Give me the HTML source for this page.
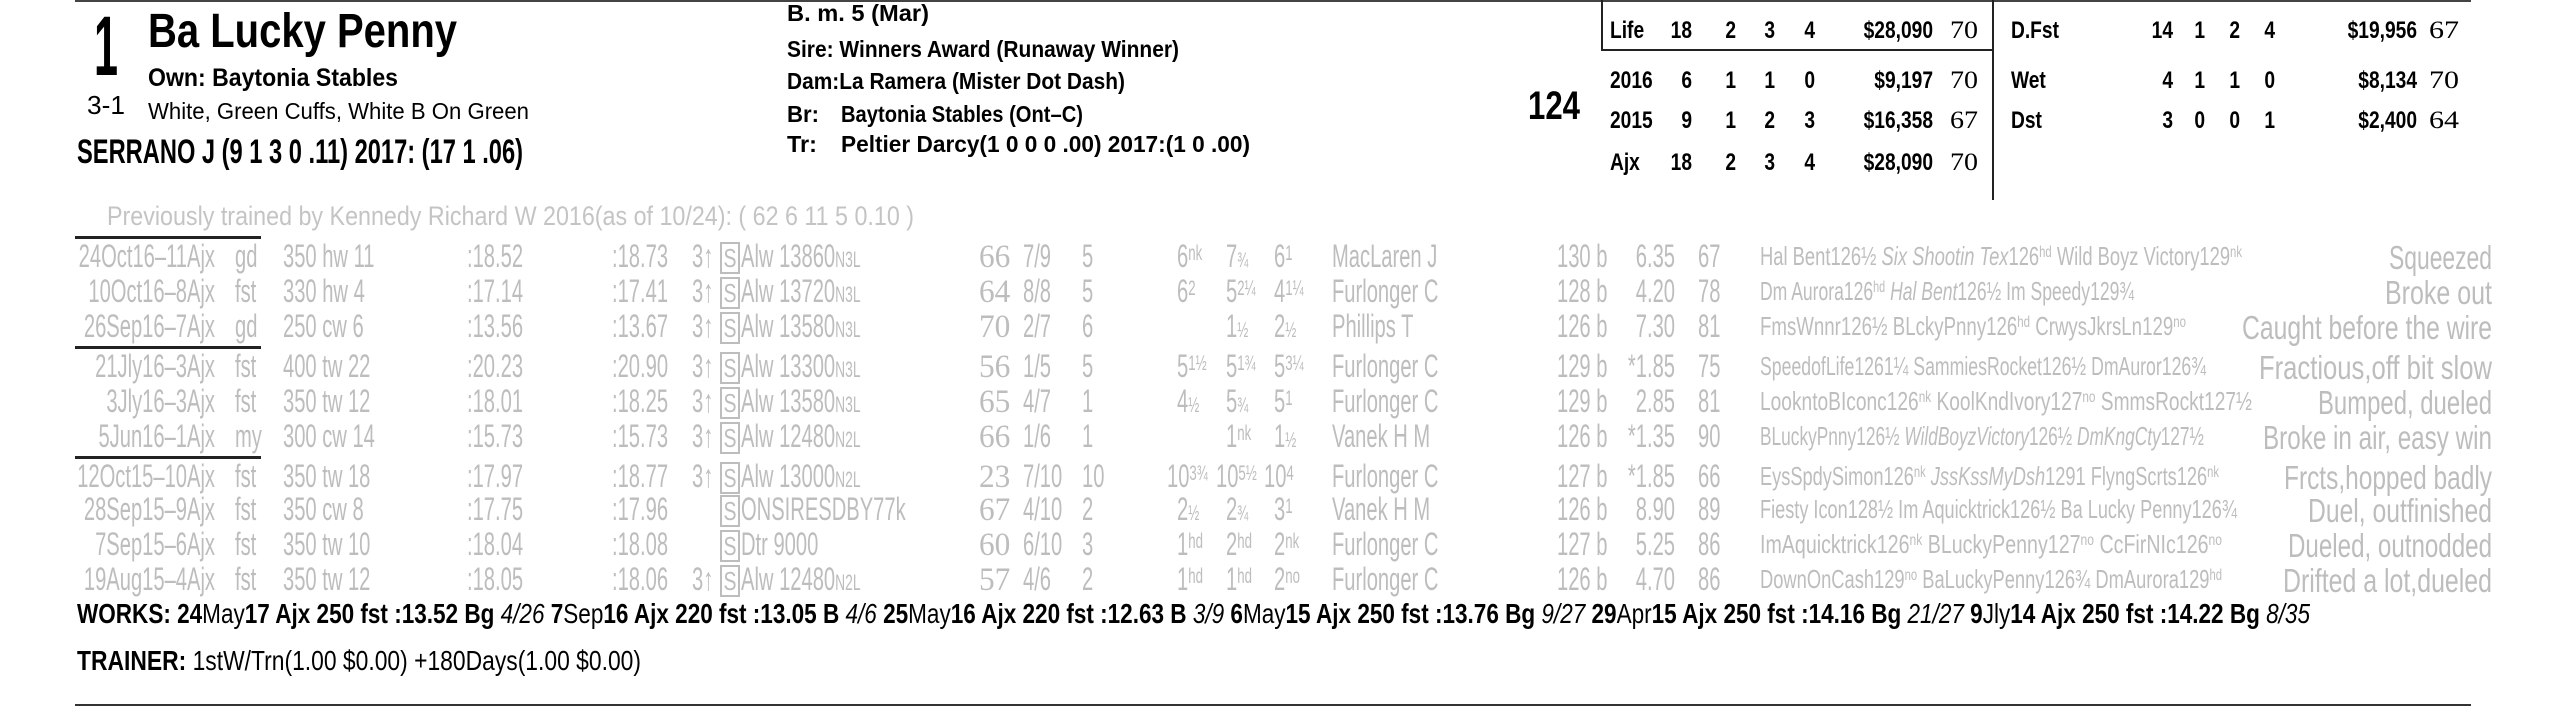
<!DOCTYPE html>
<html><head><meta charset="utf-8"><style>
html,body{margin:0;padding:0;background:#fff;}
svg{display:block;font-family:"Liberation Sans",sans-serif;}
.b{font-weight:bold;}
.s{font-family:"Liberation Serif",serif;}
</style></head><body>
<svg id="card" xmlns="http://www.w3.org/2000/svg" width="2550" height="707" viewBox="0 0 2550 707">
<line x1="75" y1="1" x2="2471" y2="1" stroke="#444" stroke-width="2"/>
<line x1="75" y1="705" x2="2471" y2="705" stroke="#333" stroke-width="2"/>
<text class="b" x="94" y="75" font-size="84" textLength="24" lengthAdjust="spacingAndGlyphs">1</text>
<text class="b" x="148" y="47" font-size="48" textLength="309" lengthAdjust="spacingAndGlyphs">Ba Lucky Penny</text>
<text class="b" x="148" y="86" font-size="25" textLength="250" lengthAdjust="spacingAndGlyphs">Own: Baytonia Stables</text>
<text x="87" y="114" font-size="26" textLength="38" lengthAdjust="spacingAndGlyphs">3-1</text>
<text x="148" y="119" font-size="23" textLength="381" lengthAdjust="spacingAndGlyphs">White, Green Cuffs, White B On Green</text>
<text class="b" x="77" y="163" font-size="34" textLength="446" lengthAdjust="spacingAndGlyphs">SERRANO J (9 1 3 0 .11) 2017: (17 1 .06)</text>
<text class="b" x="787" y="21" font-size="23" textLength="142" lengthAdjust="spacingAndGlyphs">B. m. 5 (Mar)</text>
<text class="b" x="787" y="57" font-size="23" textLength="392" lengthAdjust="spacingAndGlyphs">Sire: Winners Award (Runaway Winner)</text>
<text class="b" x="787" y="89" font-size="23" textLength="338" lengthAdjust="spacingAndGlyphs">Dam:La Ramera (Mister Dot Dash)</text>
<text class="b" x="787" y="122" font-size="23" textLength="32" lengthAdjust="spacingAndGlyphs">Br:</text>
<text class="b" x="841" y="122" font-size="23" textLength="242" lengthAdjust="spacingAndGlyphs">Baytonia Stables (Ont–C)</text>
<text class="b" x="787" y="152" font-size="23" textLength="30" lengthAdjust="spacingAndGlyphs">Tr:</text>
<text class="b" x="841" y="152" font-size="23" textLength="409" lengthAdjust="spacingAndGlyphs">Peltier Darcy(1 0 0 0 .00)  2017:(1 0 .00)</text>
<text class="b" x="1528" y="119" font-size="40" textLength="52" lengthAdjust="spacingAndGlyphs">124</text>
<path d="M1602 0 V50 H1993" fill="none" stroke="#222" stroke-width="2"/>
<line x1="1993" y1="0" x2="1993" y2="200" stroke="#222" stroke-width="2"/>
<text x="107" y="225" font-size="27" fill="#c4c4c4" textLength="807" lengthAdjust="spacingAndGlyphs">Previously trained by Kennedy Richard W 2016(as of 10/24): ( 62 6 11 5 0.10 )</text>
<g id="stats"></g>
<g id="pp"></g>
<text class="b" x="77" y="623" font-size="28" textLength="2233" lengthAdjust="spacingAndGlyphs">WORKS:   24<tspan font-weight="normal">May</tspan>17 Ajx 250 fst  :13.52 Bg <tspan font-weight="normal" font-style="italic">4/26</tspan>   7<tspan font-weight="normal">Sep</tspan>16 Ajx 220 fst  :13.05 B <tspan font-weight="normal" font-style="italic">4/6</tspan>   25<tspan font-weight="normal">May</tspan>16 Ajx 220 fst  :12.63 B <tspan font-weight="normal" font-style="italic">3/9</tspan>   6<tspan font-weight="normal">May</tspan>15 Ajx 250 fst  :13.76 Bg <tspan font-weight="normal" font-style="italic">9/27</tspan>   29<tspan font-weight="normal">Apr</tspan>15 Ajx 250 fst  :14.16 Bg <tspan font-weight="normal" font-style="italic">21/27</tspan>   9<tspan font-weight="normal">Jly</tspan>14 Ajx 250 fst  :14.22 Bg <tspan font-weight="normal" font-style="italic">8/35</tspan></text>
<text class="b" x="77" y="670" font-size="28" textLength="564" lengthAdjust="spacingAndGlyphs">TRAINER: <tspan font-weight="normal">1stW/Trn(1.00 $0.00) +180Days(1.00 $0.00)</tspan></text>
</svg>
<script>
const NS = "http://www.w3.org/2000/svg";
const statRows = [
  ["Life","18","2","3","4","$28,090","70"],
  ["2016","6","1","1","0","$9,197","70"],
  ["2015","9","1","2","3","$16,358","67"],
  ["Ajx","18","2","3","4","$28,090","70"]
];
const surfRows = [
  ["D.Fst","14","1","2","4","$19,956","67"],
  ["Wet","4","1","1","0","$8,134","70"],
  ["Dst","3","0","0","1","$2,400","64"]
];
const ppDates = ["24Oct16–11Ajx","10Oct16–8Ajx","26Sep16–7Ajx","21Jly16–3Ajx","3Jly16–3Ajx","5Jun16–1Ajx","12Oct15–10Ajx","28Sep15–9Ajx","7Sep15–6Ajx","19Aug15–4Ajx"];
const ppCond = ["gd","fst","gd","fst","fst","my","fst","fst","fst","fst"];
const ppDist = ["350 hw 11","330 hw 4","250 cw 6","400 tw 22","350 tw 12","300 cw 14","350 tw 18","350 cw 8","350 tw 10","350 tw 12"];
const ppF1 = [":18.52",":17.14",":13.56",":20.23",":18.01",":15.73",":17.97",":17.75",":18.04",":18.05"];
const ppF2 = [":18.73",":17.41",":13.67",":20.90",":18.25",":15.73",":18.77",":17.96",":18.08",":18.06"];
const ppAge = ["3↑","3↑","3↑","3↑","3↑","3↑","3↑","","","3↑"];
const ppRace = [["Alw 13860","N3L"],["Alw 13720","N3L"],["Alw 13580","N3L"],["Alw 13300","N3L"],["Alw 13580","N3L"],["Alw 12480","N2L"],["Alw 13000","N2L"],["ONSIRESDBY77k",""],["Dtr 9000",""],["Alw 12480","N2L"]];
const ppSpeed = ["66","64","70","56","65","66","23","67","60","57"];
const ppPost = ["7/9","8/8","2/7","1/5","4/7","1/6","7/10","4/10","6/10","4/6"];
const ppStart = ["5","5","6","5","1","1","10","2","3","2"];
const ppCalls = [
  [["6","nk"],["7","¾"],["6","1"]],
  [["6","2"],["5","2¼"],["4","1¼"]],
  [null,["1","½"],["2","½"]],
  [["5","1½"],["5","1¾"],["5","3¼"]],
  [["4","½"],["5","¾"],["5","1"]],
  [null,["1","nk"],["1","½"]],
  [["10","3¾"],["10","5½"],["10","4"]],
  [["2","½"],["2","¾"],["3","1"]],
  [["1","hd"],["2","hd"],["2","nk"]],
  [["1","hd"],["1","hd"],["2","no"]]
];
const ppJockey = ["MacLaren J","Furlonger C","Phillips T","Furlonger C","Furlonger C","Vanek H M","Furlonger C","Vanek H M","Furlonger C","Furlonger C"];
const ppWeight = ["130 b","128 b","126 b","129 b","129 b","126 b","127 b","126 b","127 b","126 b"];
const ppOdds = ["6.35","4.20","7.30","*1.85","2.85","*1.35","*1.85","8.90","5.25","4.70"];
const ppFig = ["67","78","81","75","81","90","66","89","86","86"];
const ppComment = [
  "Hal Bent126½ *Six Shootin Tex*126^hd^ Wild Boyz Victory129^nk^",
  "Dm Aurora126^hd^ *Hal Bent*126½ Im Speedy129¾",
  "FmsWnnr126½ BLckyPnny126^hd^ CrwysJkrsLn129^no^",
  "SpeedofLife1261¼ SammiesRocket126½ DmAuror126¾",
  "LookntoBIconc126^nk^ KoolKndIvory127^no^ SmmsRockt127½",
  "BLuckyPnny126½ *WildBoyzVictory*126½ *DmKngCty*127½",
  "EysSpdySimon126^nk^ *JssKssMyDsh*1291 FlyngScrts126^nk^",
  "Fiesty Icon128½ Im Aquicktrick126½ Ba Lucky Penny126¾",
  "ImAquicktrick126^nk^ BLuckyPenny127^no^ CcFirNIc126^no^",
  "DownOnCash129^no^ BaLuckyPenny126¾ DmAurora129^hd^"
];
const ppCommentEnd = [2242,2134,2186,2206,2252,2204,2219,2237,2222,2222];
const ppRemark = ["Squeezed","Broke out","Caught before the wire","Fractious,off bit slow","Bumped, dueled","Broke in air, easy win","Frcts,hopped badly","Duel, outfinished","Dueled, outnodded","Drifted a lot,dueled"];
const ppRemarkStart = [2389,2385,2242,2259,2318,2263,2284,2308,2288,2283];
const ppBaseline = [267,302,337,377,412,447,487,520,555,590];
const dividerY = [237,347,457];

const GRAY = "#bdbdbd";
function mk(parent, tag, attrs, name) {
  const el = document.createElementNS(NS, tag);
  for (const k in attrs) el.setAttribute(k, attrs[k]);
  
  
  parent.appendChild(el);
  return el;
}
function txt(parent, x, y, s, size, name, o) {
  o = o || {};
  const a = {"font-size": size, fill: o.fill || "#000"};
  let sx = o.sx || 1;
  a.transform = "translate(" + x + "," + y + ") scale(" + sx + ",1)";
  if (o.anchor) a["text-anchor"] = o.anchor;
  if (o.cls) a["class"] = o.cls;
  if (o.len) { a.textLength = o.len; a.lengthAdjust = "spacingAndGlyphs"; a.transform = "translate(" + x + "," + y + ")"; }
  const el = mk(parent, "text", a, name);
  el.textContent = s;
  return el;
}
// stats table
const stats = document.getElementById("stats");
const statY = [38, 88, 128, 170];
const SS = 24, SSX = 0.8;
statRows.forEach((r, i) => {
  const y = statY[i];
  txt(stats, 1610, y, r[0], SS, "stat-label", {cls: "b", sx: SSX});
  [1692, 1736, 1775, 1815].forEach((cx, j) => txt(stats, cx, y, r[j + 1], SS, "stat-count", {cls: "b", anchor: "end", sx: SSX}));
  txt(stats, 1933, y, r[5], SS, "stat-earnings", {cls: "b", anchor: "end", sx: SSX});
  txt(stats, 1950, y, r[6], 25, "stat-speed", {cls: "s", len: 28});
});
surfRows.forEach((r, i) => {
  const y = statY[i];
  txt(stats, 2011, y, r[0], SS, "surface-label", {cls: "b", sx: SSX});
  [2173, 2205, 2240, 2275].forEach((cx, j) => txt(stats, cx, y, r[j + 1], SS, "surface-count", {cls: "b", anchor: "end", sx: SSX}));
  txt(stats, 2417, y, r[5], SS, "surface-earnings", {cls: "b", anchor: "end", sx: SSX});
  txt(stats, 2429, y, r[6], 25, "surface-speed", {cls: "s", len: 30});
});
// past performances
const pp = document.getElementById("pp");
dividerY.forEach(y => {
  mk(pp, "rect", {x: 75, y: y - 1, width: 186, height: 3, fill: "#222"}, "group-divider");
});
function addRich(el, s, supSize) {
  const re = /(\*[^*]+\*|\^[^^]+\^|[^*^]+)/g;
  let m;
  while ((m = re.exec(s))) {
    const part = m[0];
    const ts = document.createElementNS(NS, "tspan");
    if (part[0] === "*") { ts.setAttribute("font-style", "italic"); ts.textContent = part.slice(1, -1); }
    else if (part[0] === "^") { ts.setAttribute("font-size", supSize); ts.setAttribute("baseline-shift", "super"); ts.textContent = part.slice(1, -1); }
    else ts.textContent = part;
    el.appendChild(ts);
  }
}
const SX = 0.63, FS = 32;
ppDates.forEach((d, i) => {
  const y = ppBaseline[i];
  const o = {fill: GRAY, sx: SX};
  txt(pp, 215, y, d, FS, "race-date", {fill: GRAY, sx: SX, anchor: "end"});
  txt(pp, 235, y, ppCond[i], FS, "track-condition", o);
  txt(pp, 283, y, ppDist[i], FS, "distance", o);
  txt(pp, 467, y, ppF1[i], FS, "fraction-1", o);
  txt(pp, 612, y, ppF2[i], FS, "fraction-2", o);
  if (ppAge[i]) txt(pp, 692, y, ppAge[i], FS, "age-restriction", o);
  mk(pp, "rect", {x: 721, y: y - 24, width: 18, height: 30, fill: "none", stroke: GRAY, "stroke-width": 2}, "state-bred-box");
  txt(pp, 730, y, "S", 26, "state-bred-mark", {fill: GRAY, sx: 0.75, anchor: "middle"});
  const race = txt(pp, 741, y, ppRace[i][0], FS, "race-class", o);
  if (ppRace[i][1]) {
    const ts = document.createElementNS(NS, "tspan");
    ts.setAttribute("font-size", 22);
    ts.textContent = ppRace[i][1];
    race.appendChild(ts);
  }
  txt(pp, 979, y, ppSpeed[i], 33, "speed-figure", {fill: GRAY, cls: "s", sx: 0.95});
  txt(pp, 1023, y, ppPost[i], FS, "post-field", o);
  txt(pp, 1082, y, ppStart[i], FS, "start-position", o);
  [1177, 1226, 1274].forEach((cx, j) => {
    const c = ppCalls[i][j];
    if (!c) return;
    const x = cx - (c[0].length - 1) * 10;
    const el = txt(pp, x, y, c[0], FS, "call-position", o);
    const ts = document.createElementNS(NS, "tspan");
    ts.setAttribute("font-size", 21);
    ts.setAttribute("baseline-shift", /[½¼¾]/.test(c[1]) && c[1].length === 1 ? "0" : "7");
    ts.textContent = c[1];
    el.appendChild(ts);
  });
  txt(pp, 1332, y, ppJockey[i], FS, "jockey", o);
  txt(pp, 1557, y, ppWeight[i], FS, "weight", o);
  txt(pp, 1675, y, ppOdds[i], FS, "odds", {fill: GRAY, sx: SX, anchor: "end"});
  txt(pp, 1698, y, ppFig[i], FS, "speed-rating", o);
  const cm = mk(pp, "text", {x: 1760, y: y - 2, "font-size": 26, fill: GRAY, textLength: ppCommentEnd[i] - 1760, lengthAdjust: "spacingAndGlyphs"}, "trip-comment");
  addRich(cm, ppComment[i], 16);
  const rm = mk(pp, "text", {x: ppRemarkStart[i], y: y + 2, "font-size": 33, fill: GRAY, textLength: 2492 - ppRemarkStart[i], lengthAdjust: "spacingAndGlyphs"}, "race-remark");
  rm.textContent = ppRemark[i];
});
</script>
</body></html>
